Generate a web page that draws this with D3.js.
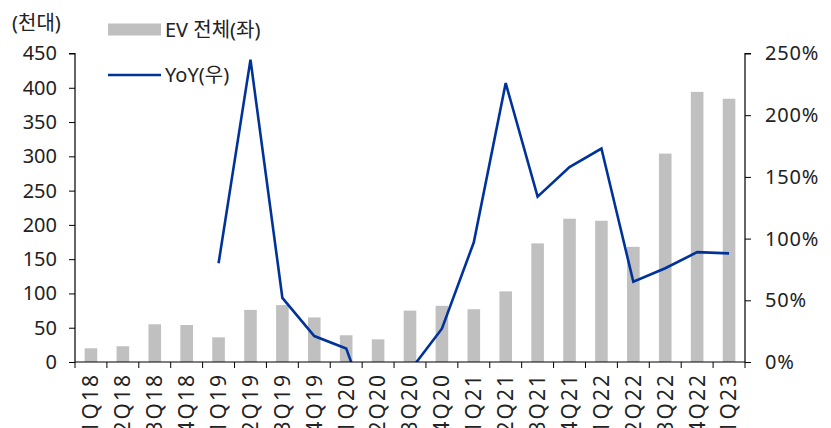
<!DOCTYPE html>
<html>
<head>
<meta charset="utf-8">
<script src="https://cdn.jsdelivr.net/npm/d3@7"></script>
<style>
  body { margin: 0; background: #fff; }
  svg text { font-family: "Noto Sans", "Noto Sans CJK KR", sans-serif; fill: #222; }
</style>
</head>
<body>
<div id="chart"></div>
<script>
// quarters
var quarters = ["1Q18","2Q18","3Q18","4Q18","1Q19","2Q19","3Q19","4Q19","1Q20","2Q20","3Q20",
  "4Q20","1Q21","2Q21","3Q21","4Q21","1Q22","2Q22","3Q22","4Q22","1Q23"];
// EV 전체 (천대), left axis
var evTotal = [20, 23, 55, 54, 36, 76, 83, 65, 39, 33, 75, 82, 77, 103, 173, 209, 206, 168, 304, 394, 384];
// YoY (%), right axis -- null where not available
var yoy = [null, null, null, null, 80, 245, 52, 21, 11, -60, -7, 27, 97, 226, 134, 158, 173, 65, 76, 89, 88];
var leftTicks = [0, 50, 100, 150, 200, 250, 300, 350, 400, 450];
var rightTicks = [0, 50, 100, 150, 200, 250];

var width = 831, height = 428;
var margin = {top: 53.5, right: 86, bottom: 66, left: 75};
var w = width - margin.left - margin.right,
    h = height - margin.top - margin.bottom;

var svg = d3.select("#chart").append("svg")
    .attr("width", width)
    .attr("height", height)
  .append("g")
    .attr("transform", "translate(" + margin.left + "," + margin.top + ")");

var xBand = d3.scaleBand().domain(quarters).range([0, w]);
var yL = d3.scaleLinear().domain([0, 450]).range([h, 0]);
var yR = d3.scaleLinear().domain([0, 250]).range([h, 0]);

svg.append("defs").append("clipPath").attr("id", "plotClip")
  .append("rect").attr("x", 0).attr("y", -5).attr("width", w).attr("height", h + 5);

// bars
svg.append("g").selectAll("rect")
  .data(evTotal)
  .enter().append("rect")
    .attr("x", function(d, i) { return xBand(quarters[i]) + xBand.bandwidth() / 2 - 6.3; })
    .attr("y", function(d) { return yL(d); })
    .attr("width", 12.6)
    .attr("height", function(d) { return h - yL(d); })
    .attr("fill", "#c0c0c0");

// YoY line
var line = d3.line()
  .defined(function(d) { return d != null; })
  .x(function(d, i) { return xBand(quarters[i]) + xBand.bandwidth() / 2; })
  .y(function(d) { return yR(d); });

svg.append("path")
  .datum(yoy)
  .attr("clip-path", "url(#plotClip)")
  .attr("fill", "none")
  .attr("stroke", "#003399")
  .attr("stroke-width", 2.6)
  .attr("d", line);

// left axis
var gL = svg.append("g")
  .call(d3.axisLeft(yL).tickValues(leftTicks).tickSize(6).tickPadding(12));
// right axis
var gR = svg.append("g")
  .attr("transform", "translate(" + w + ",0)")
  .call(d3.axisRight(yR).tickValues(rightTicks).tickSize(6).tickPadding(14)
    .tickFormat(function(d) { return d + "%"; }));
// x axis, ticks on band edges
var gX = svg.append("g")
  .attr("transform", "translate(0," + h + ")")
  .call(d3.axisBottom(xBand).tickSize(0));

gX.selectAll(".tick text")
  .attr("transform", "rotate(-90)")
  .attr("text-anchor", "end")
  .attr("x", -11)
  .attr("y", 0)
  .attr("dy", "0.35em");

svg.append("g").attr("transform", "translate(0," + h + ")")
  .selectAll("line")
  .data(d3.range(quarters.length + 1))
  .enter().append("line")
    .attr("x1", function(i) { return i * xBand.step(); })
    .attr("x2", function(i) { return i * xBand.step(); })
    .attr("y1", 0).attr("y2", 6)
    .attr("stroke", "#000");

[gL, gR, gX].forEach(function(g) {
  g.select(".domain").attr("stroke", "#000").attr("stroke-width", 1.2);
  g.selectAll(".tick line").attr("stroke", "#000");
  g.selectAll(".tick text").style("font-size", "20px").attr("fill", "#222");
});
gR.selectAll(".tick text").style("letter-spacing", "0.8px");
gX.selectAll(".tick text").style("font-size", "21px").style("letter-spacing", "2px");
gL.select(".domain").attr("d", "M0," + h + "V0H-6");
gR.select(".domain").attr("d", "M0," + h + "V0H6");
gX.select(".domain").attr("d", "M0,0H" + w);

// unit label
svg.append("text")
  .attr("x", -63).attr("y", -31)
  .attr("dy", "0.35em")
  .style("font-size", "20px")
  .text("(천대)");

// legend
var lg = svg.append("g").attr("transform", "translate(33,-24)");
lg.append("rect").attr("x", 0).attr("y", -6).attr("width", 53).attr("height", 12).attr("fill", "#c0c0c0");
lg.append("text").attr("x", 57).attr("y", 0).attr("dy", "0.35em").style("font-size", "20px").text("EV 전체(좌)");
lg.append("line").attr("x1", 0).attr("x2", 53).attr("y1", 45.5).attr("y2", 45.5)
  .attr("stroke", "#003399").attr("stroke-width", 2.6);
lg.append("text").attr("x", 57).attr("y", 45.5).attr("dy", "0.35em").style("font-size", "20px").text("YoY(우)");
</script>
</body>
</html>
